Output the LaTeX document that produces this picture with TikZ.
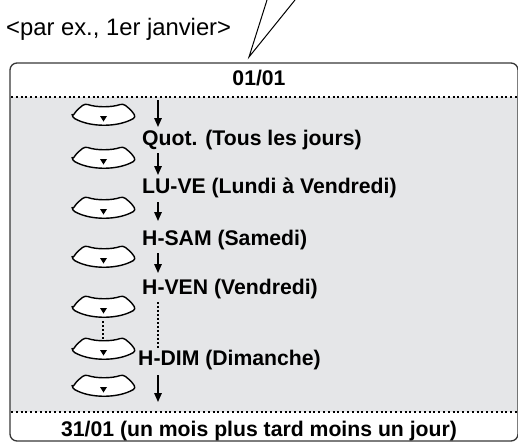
\documentclass[tikz,border=0pt]{standalone}
\usepackage{fontspec}
\setmainfont{Liberation Sans}
\usetikzlibrary{arrows.meta}
\definecolor{panelgray}{RGB}{229,230,232}
\definecolor{framegray}{RGB}{55,55,55}

\begin{document}
\begin{tikzpicture}[x=1pt, y=-1pt,
    frame/.style={draw=framegray, line width=1.3pt, rounded corners=7pt},
    sep/.style={line width=1.8pt, dash pattern=on 2pt off 2.8pt},
    dotv/.style={line width=1.5pt, dash pattern=on 1.5pt off 2.5pt},
    btn/.style={draw, fill=white, line width=1.4pt, rounded corners=3pt},
    arr/.style={-{Triangle[length=9pt, width=7.5pt]}, line width=1.5pt},
    lbl/.style={font=\fontsize{21.2}{25}\selectfont\bfseries, anchor=base west, inner sep=0pt},
    ttl/.style={font=\fontsize{21.2}{25}\selectfont\bfseries, anchor=base, inner sep=0pt},
]
\useasboundingbox (0,0) rectangle (518,442);

% Callout
\node[font=\fontsize{23.8}{28}\selectfont, anchor=base west, inner sep=0pt] (example) at (6,35) {<par ex., 1er janvier>};
\coordinate (tip) at (249,57);
\coordinate (c1) at (267,0);
\coordinate (c2) at (295,0);
\draw[line width=1pt] (c1) -- (tip) -- (c2);

% Panel
\fill[panelgray] (10,97) rectangle (518,412);
\draw[frame] (10,63) rectangle (518,441);
\draw[sep] (11,97) -- (517,97);
\draw[sep] (11,412) -- (517,412);
\node[ttl] (start) at (259,85) {01/01};
\node[ttl] (end) at (259,436) {31/01 (un mois plus tard moins un jour)};

% Buttons
\foreach \by [count=\i] in {117,160,210,259,309,351,388} {
  \coordinate (b\i) at (104,\by);
  \draw[btn] ([shift={(-32,0)}]b\i)
    .. controls ([shift={(-27,-7)}]b\i) .. ([shift={(-19,-13.5)}]b\i)
    .. controls ([shift={(-8,-9.5)}]b\i) and ([shift={(8,-9.5)}]b\i) .. ([shift={(19,-13.5)}]b\i)
    .. controls ([shift={(27,-7)}]b\i) .. ([shift={(32,0)}]b\i)
    .. controls ([shift={(14,10.5)}]b\i) and ([shift={(-14,10.5)}]b\i) .. cycle;
  \fill ([shift={(-4,-1)}]b\i) -- ([shift={(3,-1)}]b\i) -- ([shift={(-0.5,4.5)}]b\i) -- cycle;
}

% Modes
\node[lbl] (quot) at (142,145) {Quot. (Tous les jours)};
\node[lbl] (luve) at (142,193) {LU-VE (Lundi à Vendredi)};
\node[lbl] (hsam) at (142,245) {H-SAM (Samedi)};
\node[lbl] (hven) at (142,294) {H-VEN (Vendredi)};
\node[lbl] (hdim) at (138,365) {H-DIM (Dimanche)};

% Arrows
\foreach \s/\e [count=\i] in {100/127,153/175,202/221,253/273,375/402} {
  \coordinate (as\i) at (158,\s);
  \coordinate (ae\i) at (158,\e);
  \draw[arr] (as\i) -- (ae\i);
}

% Skipped steps
\coordinate (d1) at (158,302);
\coordinate (d2) at (158,350);
\draw[dotv] (d1) -- (d2);
\coordinate (d3) at (103,321);
\coordinate (d4) at (103,340);
\draw[dotv] (d3) -- (d4);
\end{tikzpicture}
\end{document}
